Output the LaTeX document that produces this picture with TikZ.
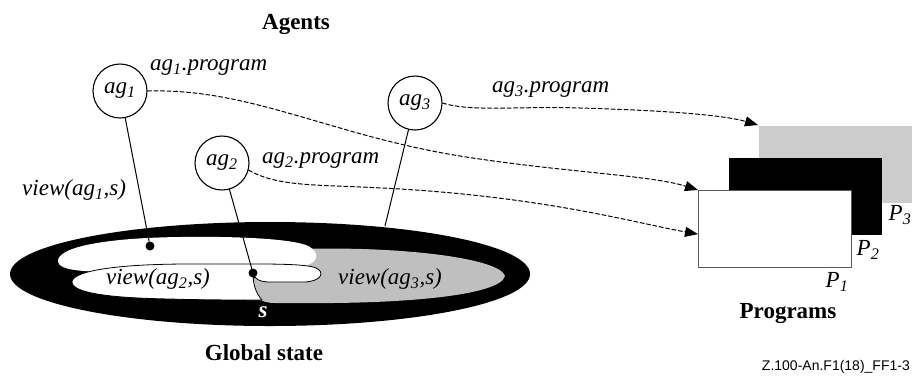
\documentclass[tikz,border=0pt]{standalone}
\usepackage{fontspec}
\setmainfont{Liberation Serif}
\newfontfamily\figfont{Liberation Sans}
\usetikzlibrary{arrows.meta}

\tikzset{
  agent/.style={draw, circle, line width=1.1pt, minimum size=54pt, inner sep=0pt, font=\fontsize{23}{26}\selectfont\itshape},
  lbl/.style={font=\fontsize{23}{26}\selectfont\itshape, inner sep=0pt},
  title/.style={font=\fontsize{23}{26}\selectfont\bfseries, inner sep=0pt},
  progbox/.style={line width=1.2pt, minimum width=153pt, minimum height=77pt, inner sep=0pt, anchor=north west},
  pdot/.style={circle, fill=black, inner sep=0pt, minimum size=9pt},
  link/.style={line width=1pt, dash pattern=on 4pt off 2.5pt},
}

\begin{document}
\begin{tikzpicture}[x=1pt, y=-1pt, >={Triangle[length=13pt, width=10pt]}, line cap=round, line join=round]
	\definecolor{viewgray}{RGB}{191,191,191}
	\definecolor{proggray}{RGB}{204,204,204}
	\useasboundingbox (0,0) rectangle (912,376);
	% global state s and the three views
	\fill[black] (270,274) ellipse [x radius=260, y radius=52];
	\fill[viewgray] (300,249) .. controls (400,246) and (500,258) .. (505,276)
		.. controls (500,296) and (400,304) .. (300,303) -- (275,303)
		.. controls (262,303) and (254,298) .. (252,288) -- (252,279) -- (300,266) -- cycle;
	\fill[white] (58,262) .. controls (56,248) and (100,238) .. (180,237)
		.. controls (250,236) and (300,240) .. (310,247)
		.. controls (320,254) and (318,262) .. (305,266) -- (120,272)
		.. controls (80,272) and (60,270) .. (58,262) -- cycle;
	\filldraw[fill=white, line width=0.8pt] (72,282) .. controls (72,272) and (110,264) .. (190,264)
		.. controls (260,264) and (305,263) .. (316,268)
		.. controls (325,272) and (322,281) .. (305,282) -- (270,282)
		.. controls (260,282) and (254,279) .. (253,273)
		.. controls (253,283) and (255,292) .. (262,300)
		.. controls (240,300) and (200,300) .. (170,299)
		.. controls (110,298) and (72,293) .. (72,282) -- cycle;
	\node[lbl] (view2) at (158,279) {view(ag\textsubscript{2},s)};
	\node[lbl] (view3) at (390,279) {view(ag\textsubscript{3},s)};
	\node[font=\fontsize{23}{26}\selectfont\bfseries\itshape, text=white, inner sep=0pt] (s) at (263,312) {s};
	\node[title] (global) at (264,353) {Global state};
	% agents
	\node[title] (agents) at (296,24) {Agents};
	\node[agent] (ag1) at (120,91) {ag\textsubscript{1}};
	\node[agent] (ag2) at (222,163) {ag\textsubscript{2}};
	\node[agent] (ag3) at (415,103) {ag\textsubscript{3}};
	\node[pdot] (d1) at (150,246) {};
	\node[pdot] (d2) at (253,273) {};
	\coordinate (e3) at (385,226);
	\draw[line width=1pt] (ag1) -- (d1);
	\draw[line width=1pt] (ag2) -- (d2);
	\draw[line width=1pt] (ag3) -- (e3);
	\node[lbl, anchor=west] (view1) at (22,190) {view(ag\textsubscript{1},s)};
	\node[lbl, anchor=west] (ag1prog) at (150,68) {ag\textsubscript{1}.program};
	\node[lbl, anchor=west] (ag2prog) at (262,161) {ag\textsubscript{2}.program};
	\node[lbl, anchor=west] (ag3prog) at (492,90) {ag\textsubscript{3}.program};
	% programs
	\node[progbox, fill=proggray] (p3) at (758,125) {};
	\node[progbox, fill=black] (p2) at (728,157) {};
	\node[progbox, draw=black!65, fill=white] (p1) at (698,190) {};
	\node[lbl] (p3lbl) at (900,215) {P\textsubscript{3}};
	\node[lbl] (p2lbl) at (868,250) {P\textsubscript{2}};
	\node[lbl] (p1lbl) at (837,282) {P\textsubscript{1}};
	\node[title] (programs) at (788,313) {Programs};
	\draw[link, ->] (ag1.east) .. controls (250,88) and (330,135) .. (460,156)
		.. controls (560,172) and (650,175) .. (p1.north west);
	\draw[link, ->] (ag2.-15) .. controls (280,188) and (320,184) .. (400,189)
		.. controls (550,198) and (640,224) .. ([yshift=-5pt]p1.west);
	\draw[link, ->] (ag3.east) .. controls (470,112) and (520,106) .. (580,108)
		.. controls (650,110) and (720,114) .. (p3.north west);
	\node[font=\figfont\fontsize{14}{16}\selectfont, anchor=east, inner sep=0pt] (figid) at (910,367) {Z.100-An.F1(18)\_FF1-3};
\end{tikzpicture}
\end{document}
